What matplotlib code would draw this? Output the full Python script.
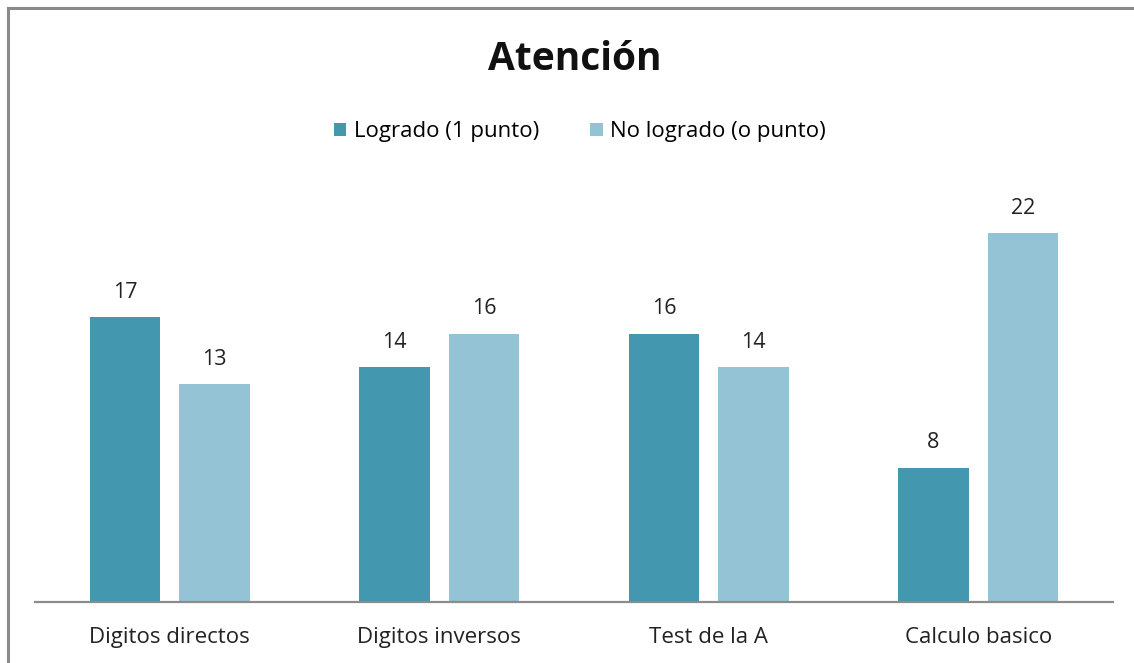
import matplotlib
matplotlib.use("Agg")
import matplotlib.pyplot as plt
from matplotlib.lines import Line2D
from matplotlib.patches import Patch
import numpy as np

plt.rcParams['font.family'] = ['Open Sans', 'DejaVu Sans']

categories = ["Digitos directos", "Digitos inversos", "Test de la A", "Calculo basico"]
logrado = [17, 14, 16, 8]
no_logrado = [13, 16, 14, 22]
series_names = ["Logrado (1 punto)", "No logrado (o punto)"]
colors = ["#4397ae", "#93c3d5"]

W, H = 1134, 663
fig = plt.figure(figsize=(W / 100, H / 100), dpi=100)
fig.patch.set_facecolor("white")

# Frame lines along the top and left edges
fig.add_artist(Line2D([8 / W, 1.0], [1 - 8 / H, 1 - 8 / H], transform=fig.transFigure,
                      color="#8a8a8a", lw=2.2))
fig.add_artist(Line2D([8 / W, 8 / W], [0.0, 1 - 8 / H], transform=fig.transFigure,
                      color="#8a8a8a", lw=2.2))

ax = fig.add_axes([35 / W, (H - 602) / H, (1113 - 35) / W, (602 - 183) / H])
x = np.arange(len(categories))
width = 0.26
offset = 0.166
for vals, name, col, off in zip([logrado, no_logrado], series_names, colors, [-offset, offset]):
    bars = ax.bar(x + off, vals, width, color=col, label=name, zorder=2)
    for b, v in zip(bars, vals):
        ax.annotate(str(v), (b.get_x() + b.get_width() / 2, v), xytext=(0, 18),
                    textcoords="offset points", ha="center", va="center",
                    fontsize=15.5, color="#222222")

ax.set_xlim(-0.5, len(categories) - 0.5)
ax.set_ylim(0, 25)
ax.set_yticks([])
ax.set_xticks(x)
ax.set_xticklabels(categories, fontsize=16, color="#222222")
ax.tick_params(axis="x", length=0, pad=18)
for s in ["top", "right", "left"]:
    ax.spines[s].set_visible(False)
ax.spines["bottom"].set_color("#8c8c8c")
ax.spines["bottom"].set_linewidth(1.6)

fig.text(575 / W, 1 - 60 / H, "Atención", ha="center", va="center",
         fontsize=28, fontweight="bold", color="#111111")

handles = [Patch(facecolor=c, edgecolor="none") for c in colors]
fig.legend(handles, series_names, loc="center", bbox_to_anchor=(580 / W, 1 - 132 / H),
           ncol=2, frameon=False, fontsize=16, handlelength=0.55, handleheight=0.55,
           handletextpad=0.35, columnspacing=2.3)

fig.savefig("out.png", dpi=100, facecolor="white")
